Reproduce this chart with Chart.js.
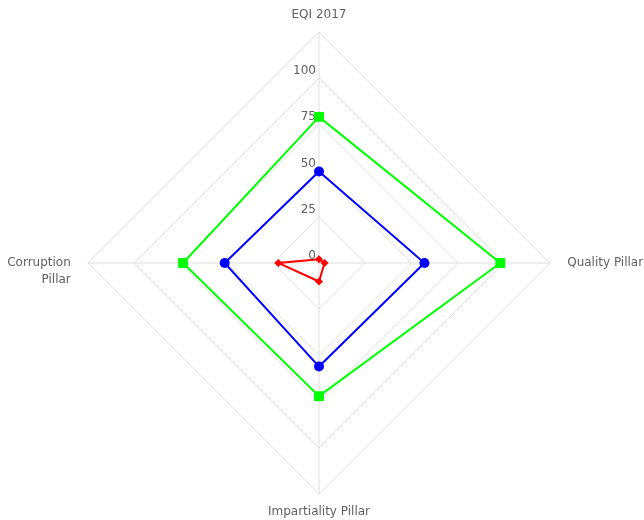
<!DOCTYPE html>
<html>
<head>
<meta charset="utf-8">
<script src="https://cdn.jsdelivr.net/npm/chart.js@4/dist/chart.umd.min.js"></script>
<style>
  html, body { margin: 0; padding: 0; background: #fff; overflow: hidden; }
  /* a bit wider than the window so the radar gets the same radius as the original */
  #wrap { width: 649px; height: 520px; margin-left: 1px; margin-top: 1px; }
</style>
</head>
<body>
<div id="wrap"><canvas id="myChart"></canvas></div>
<script>
// axes (clockwise from top), the empty first line keeps "Corruption" on the axis
const axisLabels = [['EQI 2017'], ['Quality Pillar'], ['Impartiality Pillar'], ['', 'Corruption', 'Pillar']]
const greenValues = [79, 98, 72, 73.5]
const blueValues = [49.5, 57, 56, 51]
const redValues = [2, 3, 10, 22]
const tickValues = [0, 25, 50, 75, 100]
const scaleMax = 125

const labelPadding = [9, 17, 9, 17]

// value labels sit left of the vertical axis, just above each ring
const tickLabelPlugin = {
    id: 'tickLabels',
    beforeDatasetsDraw(chart) {
        const scale = chart.scales.r
        const ctx = chart.ctx
        ctx.save()
        ctx.font = '12px "DejaVu Sans"'
        ctx.fillStyle = '#606060'
        ctx.textAlign = 'right'
        ctx.textBaseline = 'middle'
        tickValues.forEach((v) => {
            const dist = scale.getDistanceFromCenterForValue(v)
            ctx.fillText(String(v), scale.xCenter - 3, scale.yCenter - dist - 7)
        })
        ctx.restore()
    }
}

const ctx = document.getElementById('myChart').getContext('2d')
new Chart(ctx, {
    type: 'radar',
    data: {
        labels: axisLabels,
        datasets: [
            {
                label: 'Green',
                data: greenValues,
                borderColor: '#00ff00',
                backgroundColor: '#00ff00',
                pointBackgroundColor: '#00ff00',
                pointBorderWidth: 0,
                pointStyle: 'rect',
                pointRadius: 7,
                borderWidth: 2,
                fill: false
            },
            {
                label: 'Blue',
                data: blueValues,
                borderColor: '#0000ff',
                backgroundColor: '#0000ff',
                pointBackgroundColor: '#0000ff',
                pointBorderWidth: 0,
                pointStyle: 'circle',
                pointRadius: 5,
                borderWidth: 2,
                fill: false
            },
            {
                label: 'Red',
                data: redValues,
                borderColor: '#ff0000',
                backgroundColor: '#ff0000',
                pointBackgroundColor: '#ff0000',
                pointBorderWidth: 0,
                pointStyle: 'rectRot',
                pointRadius: 4,
                borderWidth: 2,
                fill: false
            }
        ]
    },
    options: {
        responsive: true,
        maintainAspectRatio: false,
        animation: false,
        layout: {
            padding: { left: 0, right: 0, top: 5, bottom: 0 }
        },
        scales: {
            r: {
                min: 0,
                max: scaleMax,
                ticks: {
                    stepSize: 25,
                    display: false
                },
                grid: {
                    color: '#dedede',
                    lineWidth: 1
                },
                angleLines: {
                    color: '#dedede',
                    lineWidth: 1
                },
                pointLabels: {
                    color: '#606060',
                    padding: (c) => labelPadding[c.index],
                    font: {
                        family: '"DejaVu Sans"',
                        size: 12,
                        lineHeight: 1.4
                    }
                }
            }
        },
        plugins: {
            legend: { display: false },
            tooltip: { enabled: false }
        }
    },
    plugins: [tickLabelPlugin]
})
</script>
</body>
</html>
